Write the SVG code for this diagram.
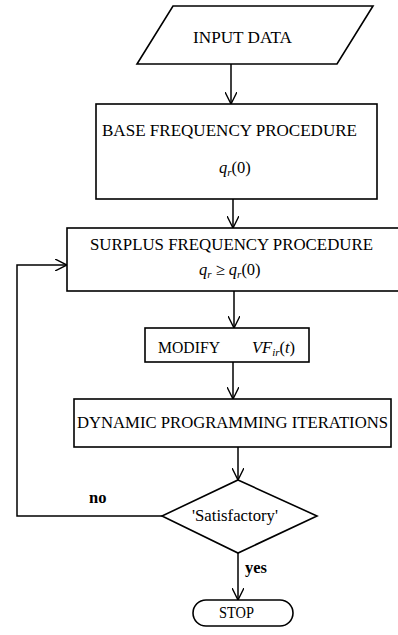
<svg xmlns="http://www.w3.org/2000/svg" width="398" height="635" viewBox="0 0 398 635">
  <defs>
    <marker id="arrow" viewBox="0 0 12 12" refX="12" refY="6" markerWidth="12" markerHeight="12" markerUnits="userSpaceOnUse" orient="auto">
      <path d="M0,0 L12,6 L0,12" fill="none" stroke="#000" stroke-width="1.4"/>
    </marker>
  </defs>
  <style>
    .shape { fill: #fff; stroke: #000; stroke-width: 1.6; }
    .line { fill: none; stroke: #000; stroke-width: 1.5; marker-end: url(#arrow); }
    .lbl { font-family: "Liberation Serif", "DejaVu Serif", serif; font-size: 16.5px; fill: #000; }
    .math { font-family: "Liberation Serif", "DejaVu Serif", serif; font-size: 16.5px; font-style: italic; fill: #000; }
    .sub { font-size: 11px; }
  </style>
  <rect width="398" height="635" fill="#fff"/>

  <g id="input">
    <polygon class="shape" points="173,6 373,6 337,64 137,64"/>
    <text class="lbl" x="193" y="43" textLength="99" lengthAdjust="spacingAndGlyphs">INPUT DATA</text>
  </g>

  <g id="base">
    <rect class="shape" x="96" y="104" width="281" height="95"/>
    <text class="lbl" x="102" y="136" textLength="255" lengthAdjust="spacingAndGlyphs">BASE FREQUENCY PROCEDURE</text>
    <text class="math" x="219" y="173">q<tspan class="sub" dy="3">r</tspan><tspan dy="-3" font-style="normal">(0)</tspan></text>
  </g>

  <g id="surplus">
    <rect class="shape" x="67" y="228" width="340" height="63"/>
    <text class="lbl" x="90" y="250" textLength="283" lengthAdjust="spacingAndGlyphs">SURPLUS FREQUENCY PROCEDURE</text>
    <text class="math" x="199" y="275">q<tspan class="sub" dy="3">r</tspan><tspan dy="-3" font-style="normal"> ≥ </tspan>q<tspan class="sub" dy="3">r</tspan><tspan dy="-3" font-style="normal">(0)</tspan></text>
  </g>

  <g id="modify">
    <rect class="shape" x="145" y="328" width="164" height="34"/>
    <text class="lbl" x="158" y="353" textLength="62" lengthAdjust="spacingAndGlyphs">MODIFY</text>
    <text class="math" x="252" y="353">VF<tspan class="sub" dy="3">ir</tspan><tspan dy="-3" font-style="normal">(</tspan>t<tspan font-style="normal">)</tspan></text>
  </g>

  <g id="dp">
    <rect class="shape" x="74" y="399" width="317" height="48"/>
    <text class="lbl" x="77" y="428" textLength="311" lengthAdjust="spacingAndGlyphs">DYNAMIC PROGRAMMING ITERATIONS</text>
  </g>

  <g id="decision">
    <polygon class="shape" points="238,480 317,516 238,553 162,516"/>
    <text class="lbl" x="192" y="521" textLength="86" lengthAdjust="spacingAndGlyphs">'Satisfactory'</text>
  </g>

  <g id="stop">
    <rect class="shape" x="193" y="600" width="100" height="26" rx="13" ry="13"/>
    <text class="lbl" x="219" y="618" textLength="35" lengthAdjust="spacingAndGlyphs">STOP</text>
  </g>

  <g id="connectors">
    <line class="line" x1="231" y1="64" x2="231" y2="104"/>
    <line class="line" x1="233" y1="199" x2="233" y2="228"/>
    <line class="line" x1="234" y1="291" x2="234" y2="328"/>
    <line class="line" x1="233" y1="362" x2="233" y2="399"/>
    <line class="line" x1="238" y1="447" x2="238" y2="480"/>
    <line class="line" x1="238" y1="553" x2="238" y2="600"/>
    <polyline class="line" points="162,516 17,516 17,265 67,265"/>
    <text class="lbl" x="89" y="503" font-weight="bold" font-size="15">no</text>
    <text class="lbl" x="245" y="573" font-weight="bold" font-size="15">yes</text>
  </g>
</svg>
